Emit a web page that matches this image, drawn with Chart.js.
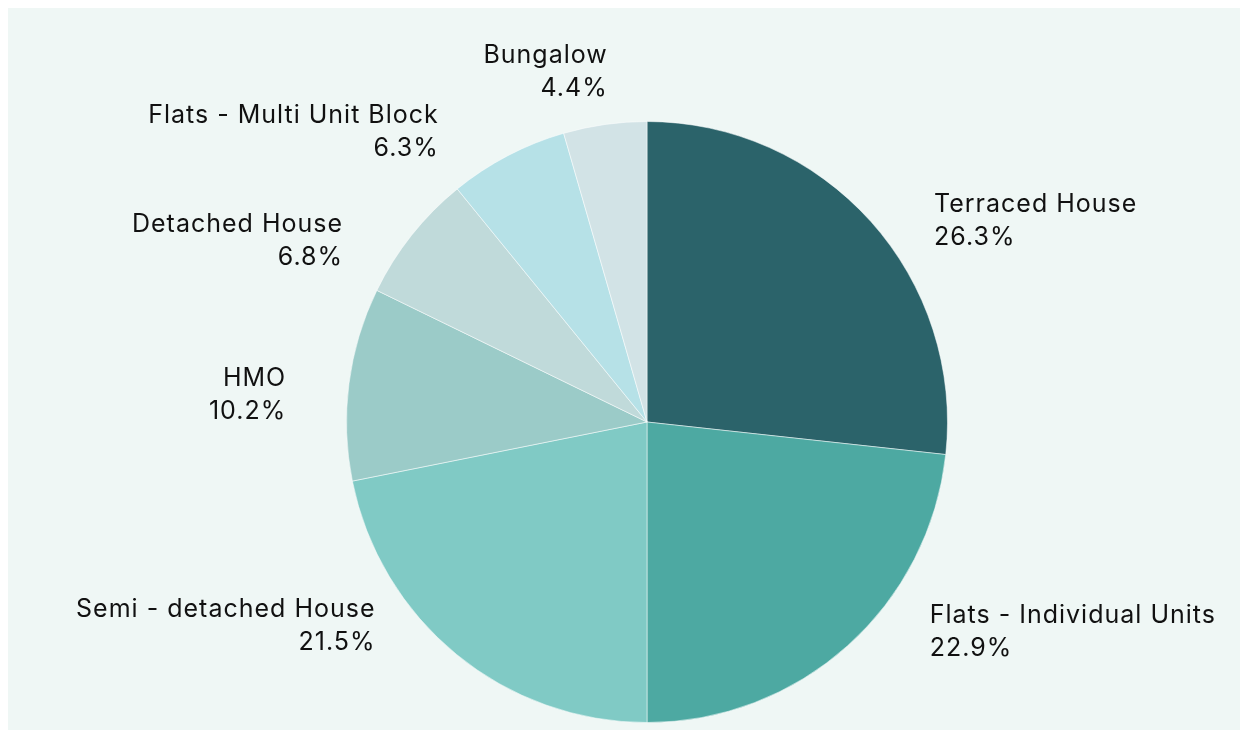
<!DOCTYPE html>
<html>
<head>
<meta charset="utf-8">
<script src="https://cdn.jsdelivr.net/npm/chart.js@4.4.1/dist/chart.umd.min.js"></script>
<style>
  html, body { margin: 0; padding: 0; background: #ffffff; }
  .panel { position: absolute; left: 8px; top: 8px; width: 1232px; height: 722px; background: #eff7f5; }
</style>
</head>
<body>
<div class="panel"><canvas id="pieChart" width="1232" height="722"></canvas></div>
<script>
// property types and their share (%)
const categories = ["Terraced House", "Flats - Individual Units", "Semi - detached House", "HMO", "Detached House", "Flats - Multi Unit Block", "Bungalow"];
const shares = [26.3, 22.9, 21.5, 10.2, 6.8, 6.3, 4.4];
const sliceColors = ["#2b636a", "#4da9a2", "#80cac5", "#9bcbc8", "#c0dada", "#b6e1e7", "#d2e3e6"];

// nudges so labels land where the original put them
const labelNudge = [[41, 19], [62, -37], [-62, -52], [-33, 15], [-45, 24], [-55, 2], [7, -23]];

const outsideLabels = {
  id: 'outsideLabels',
  afterDraw(chart) {
    const ctx = chart.ctx;
    const arcs = chart.getDatasetMeta(0).data;
    ctx.save();
    ctx.font = '400 25px Inter, "Noto Sans", sans-serif';
    ctx.letterSpacing = '1px';
    ctx.fillStyle = '#111111';
    ctx.textBaseline = 'middle';
    arcs.forEach(function(arc, i) {
      const mid = (arc.startAngle + arc.endAngle) / 2;
      const r = arc.outerRadius + 30;
      const x = arc.x + Math.cos(mid) * r + labelNudge[i][0];
      const y = arc.y + Math.sin(mid) * r + labelNudge[i][1];
      ctx.textAlign = Math.cos(mid) >= 0 ? 'left' : 'right';
      ctx.fillText(categories[i], x, y - 16);
      ctx.fillText(shares[i].toFixed(1) + '%', x, y + 17);
    });
    ctx.restore();
  }
};

var ctx = document.getElementById('pieChart').getContext('2d');
var pieChart = new Chart(ctx, {
  type: 'pie',
  data: {
    labels: categories,
    datasets: [{
      data: shares,
      backgroundColor: sliceColors,
      borderColor: 'rgba(255,255,255,0.5)',
      borderWidth: 1
    }]
  },
  options: {
    responsive: false,
    animation: false,
    layout: {
      padding: { left: 100, right: 54, top: 113, bottom: 7 }
    },
    plugins: {
      legend: { display: false },
      tooltip: { enabled: false }
    }
  },
  plugins: [outsideLabels]
});
</script>
</body>
</html>
